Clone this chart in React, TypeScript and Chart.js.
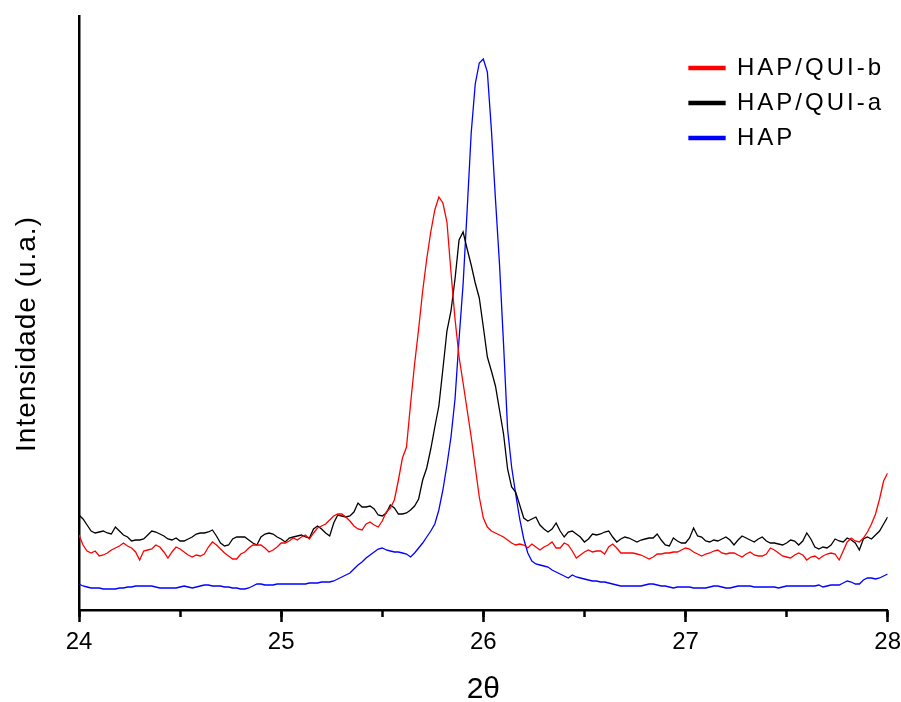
import React, { useEffect, useRef } from 'react';
import { Chart, registerables } from 'chart.js';

Chart.register(...registerables);

// 2θ scan positions: 24.00 → 28.00 with a 0.02° step
const twoTheta: number[] = Array.from({ length: 201 }, (_, i) => Math.round((24 + i * 0.02) * 100) / 100);

// Intensities (arbitrary units)
const hapQuiB: number[] = [
  74, 64, 58, 56, 58, 53, 54, 56, 59, 61,
  63, 66, 63, 61, 57, 49, 58, 59, 60, 64,
  62, 57, 51, 57, 62, 60, 57, 54, 52, 54,
  53, 55, 62, 67, 64, 60, 56, 53, 50, 50,
  55, 57, 61, 64, 64, 64, 61, 57, 59, 62,
  66, 66, 68, 71, 69, 72, 74, 70, 76, 81,
  83, 85, 89, 93, 95, 95, 92, 88, 83, 80,
  79, 85, 87, 84, 82, 88, 97, 101, 109, 129,
  151, 162, 205, 245, 280, 318, 350, 377, 399, 412,
  406, 387, 337, 290, 252, 226, 199, 172, 142, 112,
  91, 82, 78, 76, 74, 72, 69, 66, 64, 65,
  64, 61, 65, 62, 59, 62, 64, 67, 61, 61,
  66, 64, 58, 51, 54, 57, 59, 57, 58, 58,
  55, 62, 65, 61, 56, 56, 56, 56, 55, 54,
  52, 50, 52, 55, 55, 56, 56, 57, 57, 59,
  61, 60, 57, 55, 53, 55, 56, 58, 59, 56,
  55, 56, 56, 54, 52, 55, 57, 54, 53, 53,
  55, 61, 59, 56, 53, 52, 51, 54, 56, 54,
  49, 52, 53, 50, 53, 55, 56, 55, 49, 58,
  67, 71, 68, 67, 71, 77, 85, 95, 110, 128,
  136,
];

const hapQuiA: number[] = [
  94, 90, 84, 78, 76, 77, 78, 76, 75, 82,
  78, 74, 72, 68, 69, 69, 70, 74, 78, 77,
  75, 73, 70, 69, 71, 68, 68, 70, 72, 75,
  76, 76, 77, 79, 73, 66, 63, 64, 70, 72,
  72, 72, 69, 66, 64, 72, 75, 76, 75, 72,
  70, 67, 71, 72, 73, 74, 72, 71, 80, 83,
  80, 76, 73, 86, 94, 93, 92, 93, 97, 106,
  102, 102, 103, 100, 94, 93, 96, 104, 101, 95,
  95, 96, 99, 103, 110, 129, 141, 160, 182, 203,
  240, 278, 298, 330, 369, 377, 360, 344, 326, 311,
  282, 252, 238, 223, 199, 175, 140, 122, 117, 104,
  91, 88, 90, 92, 84, 80, 77, 80, 86, 78,
  72, 77, 78, 75, 72, 67, 70, 75, 74, 75,
  77, 78, 72, 67, 70, 72, 71, 69, 67, 69,
  70, 71, 71, 75, 69, 64, 63, 71, 68, 66,
  66, 71, 81, 73, 72, 68, 67, 69, 68, 70,
  72, 69, 64, 69, 73, 71, 69, 67, 70, 72,
  68, 66, 66, 65, 64, 66, 69, 68, 64, 68,
  76, 70, 62, 60, 62, 61, 64, 70, 68, 67,
  71, 69, 66, 59, 70, 72, 70, 74, 78, 85,
  92,
];

const hap: number[] = [
  25, 23, 22, 21, 21, 21, 20, 20, 20, 20,
  21, 21, 22, 22, 23, 23, 23, 23, 23, 22,
  21, 21, 21, 21, 21, 22, 23, 22, 21, 22,
  23, 24, 24, 23, 23, 23, 22, 22, 21, 21,
  20, 20, 21, 23, 25, 25, 24, 24, 24, 25,
  25, 25, 25, 25, 25, 25, 25, 26, 26, 26,
  27, 27, 27, 28, 30, 32, 34, 36, 40, 44,
  47, 51, 54, 57, 60, 61, 59, 58, 57, 57,
  56, 55, 52, 56, 61, 66, 72, 78, 85, 99,
  119, 144, 172, 210, 270, 325, 399, 476, 525, 546,
  550, 537, 479, 410, 345, 265, 180, 142, 115, 90,
  70, 56, 48, 45, 44, 43, 42, 39, 37, 35,
  33, 31, 34, 32, 31, 30, 29, 28, 28, 27,
  27, 26, 25, 24, 23, 23, 23, 23, 23, 23,
  24, 25, 25, 24, 23, 23, 22, 21, 22, 22,
  22, 22, 21, 21, 21, 21, 22, 23, 23, 22,
  21, 21, 22, 23, 23, 23, 23, 22, 22, 22,
  22, 22, 22, 21, 22, 23, 23, 23, 23, 23,
  23, 23, 23, 24, 22, 23, 24, 24, 24, 26,
  28, 27, 25, 25, 29, 31, 31, 30, 31, 33,
  35,
];

const seriesLabels: string[] = ['HAP/QUI-b', 'HAP/QUI-a', 'HAP'];
const seriesColors: string[] = ['#ff0000', '#000000', '#0000ff'];
const xMin = 24;
const xMax = 28;
const xTitle = '2θ';
const yTitle = 'Intensidade (u.a.)';

const FONT = '"Liberation Sans", Arial, Helvetica, sans-serif';

const yTitlePlugin = {
  id: 'yTitlePlugin',
  afterDraw(chart: any) {
    const ctx = chart.ctx as CanvasRenderingContext2D;
    const area = chart.chartArea;
    ctx.save();
    ctx.translate(35, (area.top + area.bottom) / 2 + 21);
    ctx.rotate(-Math.PI / 2);
    ctx.font = `28px ${FONT}`;
    ctx.fillStyle = '#000';
    ctx.textAlign = 'center';
    ctx.textBaseline = 'alphabetic';
    (ctx as any).letterSpacing = '1px';
    ctx.fillText(yTitle, 0, 0);
    ctx.restore();
  },
};

const legendPlacePlugin = {
  id: 'legendPlacePlugin',
  afterLayout(chart: any) {
    const lg = chart.legend;
    if (!lg) return;
    lg.left = 678;
    lg.top = 45;
    lg.right = 901;
    lg.bottom = 200;
    lg.width = 223;
    lg.height = 155;
    if (!lg.__wrapped) {
      const orig = lg.draw;
      lg.draw = function (...args: any[]) {
        const c = this.ctx;
        c.save();
        c.letterSpacing = '3px';
        orig.apply(this, args);
        c.restore();
      };
      lg.__wrapped = true;
    }
  },
};

export default function App() {
  const ref = useRef<HTMLCanvasElement | null>(null);

  useEffect(() => {
    if (!ref.current) return;
    const series = [hapQuiB, hapQuiA, hap];
    const chart = new Chart(ref.current, {
      type: 'line',
      data: {
        datasets: series.map((vals, k) => ({
          label: seriesLabels[k],
          data: twoTheta.map((x, i) => ({ x, y: vals[i] })),
          borderColor: seriesColors[k],
          backgroundColor: seriesColors[k],
          borderWidth: 1.3,
          pointRadius: 0,
          tension: 0,
          fill: false,
          xAxisID: 'x',
          yAxisID: 'y',
        })),
      },
      options: {
        animation: false,
        responsive: true,
        maintainAspectRatio: false,
        layout: { padding: { left: 0, right: 13, top: 16, bottom: 0 } },
        plugins: {
          legend: {
            display: true,
            position: 'chartArea' as any,
            align: 'start',
            labels: {
              boxWidth: 36,
              boxHeight: 3,
              padding: 11,
              color: '#000',
              textAlign: 'left',
              font: { family: FONT, size: 24 },
            },
          },
          tooltip: { enabled: false },
        },
        scales: {
          x2: {
            type: 'linear',
            position: 'bottom',
            weight: -1,
            min: xMin,
            max: xMax,
            ticks: { stepSize: 0.5, display: false },
            grid: { drawOnChartArea: false, tickLength: 7, tickWidth: 2.5, tickColor: '#000' },
            border: { display: false },
            afterFit: (s: any) => { s.height = 0; },
          },
          x: {
            type: 'linear',
            position: 'bottom',
            weight: 0,
            min: xMin,
            max: xMax,
            ticks: {
              stepSize: 1,
              color: '#000',
              padding: 0,
              font: { family: FONT, size: 24, lineHeight: 1.667 },
              callback: (v: any) => (Number.isInteger(v) ? String(v) : ''),
            },
            grid: { drawOnChartArea: false, tickLength: 12, tickWidth: 2.5, tickColor: '#000' },
            border: { display: true, color: '#000', width: 2.5 },
            title: {
              display: true,
              text: xTitle,
              color: '#000',
              padding: 0,
              font: { family: FONT, size: 30, lineHeight: 0.8 },
            },
            afterFit: (s: any) => { s.height = 92; },
          },
          y: {
            type: 'linear',
            position: 'left',
            min: -1,
            max: 593,
            ticks: { display: false },
            grid: { display: false },
            border: { display: true, color: '#000', width: 2.5 },
            title: { display: false },
            afterFit: (s: any) => { s.width = 79; },
          },
        },
      },
      plugins: [yTitlePlugin, legendPlacePlugin],
    });
    return () => chart.destroy();
  }, []);

  return (
    <div style={{ position: 'absolute', left: 0, top: 0, width: 901, height: 702, background: '#fff' }}>
      <canvas ref={ref} />
    </div>
  );
}
